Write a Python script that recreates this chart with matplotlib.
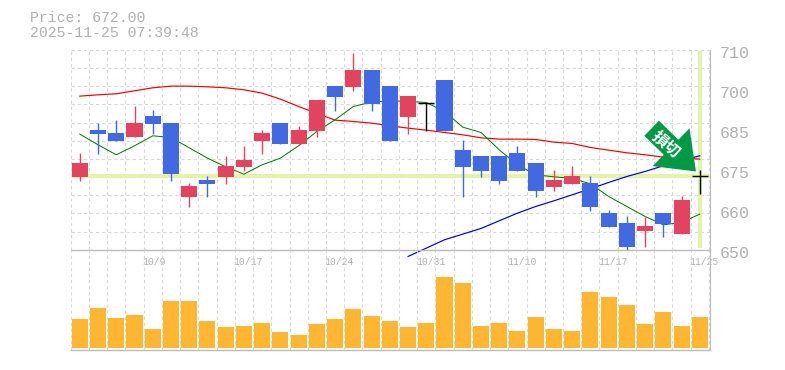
import matplotlib
matplotlib.use('Agg')
import matplotlib.pyplot as plt
from matplotlib.patches import FancyArrowPatch

# open, close, high, low per day
opens = [671.9, 686, 685.1, 683.9, 690.2, 688.1, 665.9, 671, 671.9, 674.9, 682.7, 688.1, 681.8, 685.7, 699.2,
         698.9, 704, 699.2, 689.9, 694.1, 701, 680, 678.2, 678.2, 679.1, 676.1, 668.9, 669.8, 670.1, 661.1,
         658.1, 655.7, 661.1, 654.8, 672]
closes = [676.1, 684.8, 682.7, 688.1, 687.8, 672.8, 669.2, 669.8, 675.2, 677, 685.1, 681.8, 686, 695, 695.9,
          704, 693.8, 682.7, 696.2, 694.1, 685.7, 674.9, 673.7, 670.7, 673.7, 667.7, 671, 672.2, 662.9, 656.9,
          650.9, 657.2, 657.8, 665, 672]
highs = [679.1, 688.1, 689, 693.2, 692, 688.1, 670.1, 672.2, 678.2, 681.2, 686, 688.1, 687.2, 695, 699.2,
         709.1, 704, 699.2, 696.2, 694.1, 701, 683, 678.2, 678.2, 681.2, 676.1, 674, 675.2, 672.2, 662,
         660.2, 659.9, 661.1, 666.2, 674]
lows = [670.7, 678.8, 682.7, 683.9, 684.8, 670.7, 662.9, 665.9, 669.8, 673.7, 678.8, 681.8, 681.8, 683.9, 691.7,
        697.7, 691.7, 682.7, 684.8, 685.7, 685.7, 665.9, 671.9, 669.8, 673.7, 665.9, 667.7, 669.8, 661.7, 656.9,
        650, 650.9, 653.9, 654.8, 666.8]
volume = [29, 40, 30, 33, 19, 47, 47, 27, 21, 22, 25, 16, 13, 24, 29, 39, 32, 27,
          21, 25, 71, 65, 22, 25, 17, 31, 19, 17, 56, 51, 43, 24, 36, 22, 31]
ma_red = [696.1, 696.5, 696.8, 697.7, 698.6, 699.1, 699.1, 698.9, 698.6, 698, 697, 695.2, 693, 690.9, 688.9,
          688.5, 688, 687.2, 686.5, 685.9, 685.2, 684.5, 683.6, 683.2, 683.2, 683.1, 682.3, 681.9, 680.7, 679.9,
          679.1, 678.5, 677.8, 677.6, 677.2]
ma_green = [684.7, 681.5, 678.5, 681.2, 684.2, 683.7, 680.6, 677.5, 674.9, 672.7, 675.5, 677.5, 681.2, 685.5, 689,
            693, 694.3, 694.7, 694.5, 694.2, 691.5, 686.8, 685.2, 680, 675.5, 672.5, 671.9, 671.4, 669.8, 666,
            663, 660, 657.5, 658.2, 660.7]
ma_blue = [648, 650.5, 653, 654.7, 656.4, 658.7, 661, 663, 664.7, 666.5, 668.3, 670.2, 672, 673.5, 675.2, 676.8, 678.2]
ma_blue_start = 18

dates = ['10/9', '10/17', '10/24', '10/31', '11/10', '11/17', '11/25']
date_idx = [4, 9, 14, 19, 24, 29, 34]
price_ticks = [710, 698, 686, 674, 662, 650]
price_labels = ['710', '700', '685', '675', '660', '650']
last_price = 672

W, H = 785, 370
fig = plt.figure(figsize=(W / 100, H / 100), dpi=100)
plt.rcParams['font.family'] = ['Liberation Mono', 'DejaVu Sans']
ax = fig.add_axes([70.7 / W, 1 - 249.8 / H, (710 - 70.7) / W, 200 / H])
vax = fig.add_axes([70.7 / W, 1 - 349.8 / H, (710 - 70.7) / W, 100 / H], sharex=ax)

GRID = '#d8d8d8'
AXIS = '#bbbbbb'
RED = '#e2435f'
BLUE = '#4169e1'
BAND = '#e3f3a9'
xs = list(range(len(opens)))

ax.set_xlim(-0.5, 34.56)
ax.set_ylim(650, 710)
vax.set_ylim(-2, 98)

grid_x = [k - 0.5 for k in range(36)]
for a in (ax, vax):
    a.set_xticks(grid_x)
    a.tick_params(length=0, labelbottom=False, labelleft=False)
    a.grid(True, axis='x', color=GRID, ls=(0, (3, 2.5)), lw=0.8)
    a.set_axisbelow(True)
    for s in a.spines.values():
        s.set_visible(False)
    a.spines['right'].set_visible(True)
    a.spines['right'].set_color(AXIS)
    a.spines['bottom'].set_visible(True)
    a.spines['bottom'].set_color(AXIS)
    a.spines['bottom'].set_linewidth(1.0)
    a.patch.set_alpha(0)

ax.set_yticks([650 + 60 * k / 11 for k in range(12)])
ax.grid(True, axis='y', color=GRID, ls=(0, (3, 2.5)), lw=0.8)

ax.axhline(last_price, color=BAND, lw=3, zorder=1)
ax.plot([34, 34], [650.6, 709.6], color=BAND, lw=3, zorder=1, solid_capstyle='butt')

ax.plot(xs, ma_red, color='#f00000', lw=0.85, zorder=2)
ax.plot(xs, ma_green, color='#007a00', lw=0.72, zorder=2)
ax.plot(range(ma_blue_start, len(xs)), ma_blue, color='#0000dd', lw=0.85, zorder=2, clip_on=False)

for i in xs:
    o, c = opens[i], closes[i]
    col = 'black' if o == c else (RED if c > o else BLUE)
    ax.plot([i, i], [lows[i], highs[i]], color=col, lw=1.0, zorder=3, solid_capstyle='butt')
    if o == c:
        ax.plot([i - 0.44, i + 0.44], [o, o], color=col, lw=1.0, zorder=3, solid_capstyle='butt')
    else:
        ax.bar(i, abs(c - o), 0.88, bottom=min(o, c), color=col, zorder=3)

vax.bar(xs, volume, 0.88, color='#ffb733', zorder=3)

for lbl, i in zip(dates, date_idx):
    ax.annotate(lbl, (i, 650), xytext=(-10.5 * 0.72, -8.5), textcoords='offset points', color='#b0b0b0',
                fontsize=7, ha='left', va='center', annotation_clip=False)
for p, lbl in zip(price_ticks, price_labels):
    ax.annotate(lbl, (1, p), xycoords=('axes fraction', 'data'), xytext=(7, -3), textcoords='offset points',
                color='#b0b0b0', fontsize=12, ha='left', va='center', annotation_clip=False)

fig.text(30 / W, 1 - 18 / H, 'Price: 672.00', color='#b0b0b0', fontsize=10.7, va='center', ha='left')
fig.text(30 / W, 1 - 33 / H, '2025-11-25 07:39:48', color='#b0b0b0', fontsize=10.7, va='center', ha='left')

arrow = FancyArrowPatch((31.36, 686.45), (33.79, 673.5), mutation_scale=1, color='#009944', lw=0, zorder=5,
                        arrowstyle='simple,head_length=25,head_width=38,tail_width=15.1', shrinkA=0, shrinkB=0)
ax.add_patch(arrow)
ax.text(32.15, 681.6, '損切', color='white', fontsize=11.5, fontweight='bold', rotation=-40, zorder=6,
        ha='center', va='center', family=['Noto Sans CJK JP', 'DejaVu Sans'], rotation_mode='anchor')

fig.savefig('out.png', dpi=100, facecolor='white')
